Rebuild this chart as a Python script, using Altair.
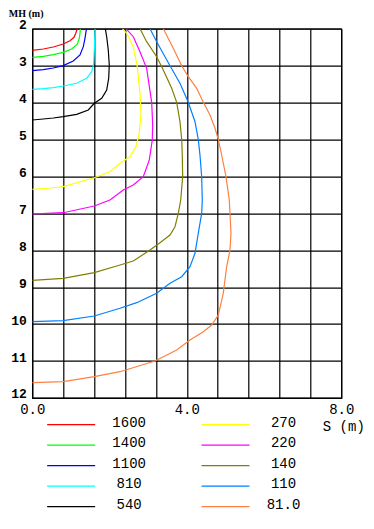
import altair as alt
import pandas as pd

# Contour levels and colours (legend order: column 1 then column 2)
levels = ["1600", "1400", "1100", "810", "540", "270", "220", "140", "110", "81.0"]
colors = ["#FF0000", "#00FF00", "#0000FF", "#00FFFF", "#000000",
          "#FFFF00", "#FF00FF", "#808000", "#0080FF", "#FF8040"]

# Contour polylines: S (m) and MH (m)
s_1600 = [0, 0.285, 0.544, 0.80, 0.976, 1.08, 1.124, 1.165]
mh_1600 = [2.585, 2.55, 2.496, 2.414, 2.325, 2.233, 2.125, 2.0]

s_1400 = [0, 0.285, 0.544, 0.80, 1.02, 1.165, 1.217, 1.235, 1.243]
mh_1400 = [2.775, 2.748, 2.704, 2.64, 2.55, 2.42, 2.26, 2.125, 2.0]

s_1100 = [0, 0.285, 0.544, 0.80, 1.06, 1.235, 1.32, 1.364, 1.39, 1.408]
mh_1100 = [3.137, 3.11, 3.064, 3.0, 2.875, 2.712, 2.487, 2.26, 2.08, 2.0]

s_810 = [0, 0.285, 0.544, 0.80, 1.149, 1.408, 1.538, 1.589, 1.605, 1.615, 1.623]
mh_810 = [3.641, 3.624, 3.598, 3.552, 3.478, 3.343, 3.164, 2.937, 2.577, 2.306, 2.0]

s_540 = [0, 0.285, 0.544, 0.80, 1.149, 1.45, 1.605, 1.797, 1.926, 1.978, 1.993, 1.967, 1.926, 1.89]
mh_540 = [4.472, 4.445, 4.418, 4.383, 4.318, 4.20, 4.02, 3.885, 3.66, 3.343, 2.983, 2.577, 2.217, 2.0]

s_270 = [0, 0.458, 0.80, 1.605, 2.01, 2.27, 2.529, 2.684, 2.77, 2.814, 2.788, 2.718, 2.615, 2.444, 2.33]
mh_270 = [6.349, 6.313, 6.278, 6.035, 5.872, 5.645, 5.466, 5.195, 4.832, 4.291, 3.749, 3.029, 2.487, 2.125, 2.0]

s_220 = [0, 0.373, 0.80, 1.605, 2.01, 2.356, 2.615, 2.873, 3.029, 3.106, 3.117, 3.091, 2.961, 2.788, 2.615, 2.426]
mh_220 = [7.018, 6.999, 6.983, 6.80, 6.638, 6.368, 6.232, 6.008, 5.555, 5.014, 4.608, 3.993, 3.072, 2.623, 2.217, 2.0]

s_140 = [0, 0.80, 1.605, 2.27, 2.615, 3.047, 3.306, 3.565, 3.694, 3.78, 3.842, 3.893, 3.883,
         3.868, 3.823, 3.738, 3.609, 3.391, 3.22, 2.961, 2.788]
mh_140 = [8.813, 8.759, 8.607, 8.399, 8.29, 7.993, 7.795, 7.587, 7.362, 6.999, 6.638, 6.008, 5.42,
          4.995, 4.518, 3.993, 3.614, 3.118, 2.758, 2.352, 2.0]

s_110 = [0, 0.80, 1.605, 2.27, 2.703, 3.22, 3.565, 3.868, 4.082, 4.212, 4.297, 4.385, 4.401,
         4.385, 4.341, 4.297, 4.212, 4.038, 3.823, 3.565, 3.22, 3.047]
mh_110 = [9.934, 9.907, 9.78, 9.571, 9.419, 9.165, 8.894, 8.716, 8.445, 8.082, 7.54, 6.999, 6.638,
          6.008, 5.42, 4.995, 4.518, 3.993, 3.478, 3.002, 2.352, 2.0]

s_81 = [0, 0.80, 1.605, 2.27, 3.176, 3.738, 4.082, 4.427, 4.644, 4.815, 4.944, 5.032, 5.118,
        5.144, 5.10, 5.014, 4.903, 4.815, 4.73, 4.60, 4.427, 4.256, 4.038, 3.868, 3.65, 3.391]
mh_81 = [11.586, 11.559, 11.423, 11.288, 10.998, 10.70, 10.43, 10.205, 10.023, 9.753, 9.165, 8.445, 8.0,
         7.54, 6.638, 6.008, 5.42, 4.995, 4.697, 4.337, 3.993, 3.614, 3.30, 3.002, 2.531, 2.0]

x_ticks = [0, 0.8, 1.6, 2.4, 3.2, 4, 4.8, 5.6, 6.4, 7.2, 8]
y_ticks = [2, 3, 4, 5, 6, 7, 8, 9, 10, 11, 12]

series = {
    "1600": (s_1600, mh_1600), "1400": (s_1400, mh_1400), "1100": (s_1100, mh_1100),
    "810": (s_810, mh_810), "540": (s_540, mh_540), "270": (s_270, mh_270),
    "220": (s_220, mh_220), "140": (s_140, mh_140), "110": (s_110, mh_110),
    "81.0": (s_81, mh_81),
}

rows = []
for lev, (ss, mm) in series.items():
    for i, (a, b) in enumerate(zip(ss, mm)):
        rows.append({"level": lev, "S": a, "MH": b, "i": i})
df = pd.DataFrame(rows)

leg = pd.DataFrame({
    "level": levels,
    "col": [k // 5 for k in range(len(levels))],
    "row": [k % 5 for k in range(len(levels))],
})

color_scale = alt.Scale(domain=levels, range=colors)

lines = alt.Chart(df).mark_line(strokeWidth=1.2, clip=True).encode(
    x=alt.X("S:Q",
            scale=alt.Scale(domain=[0, 8], nice=False, zero=False),
            axis=alt.Axis(values=x_ticks, grid=True, ticks=False, domain=False,
                          labelExpr="(datum.value == 0 || datum.value == 4 || datum.value == 8) ? format(datum.value, '.1f') : ''",
                          labelFont="Liberation Mono", labelFontSize=14, labelColor="#000000",
                          labelBaseline="top", labelPadding=5, labelFlush=False,
                          labelOverlap=False, labelBound=False,
                          title="S (m)", titleFont="Liberation Mono", titleFontSize=14,
                          titleFontWeight="normal", titleColor="#000000",
                          titleX=332, titleY=33, titleAlign="right",
                          titleBaseline="alphabetic")),
    y=alt.Y("MH:Q",
            scale=alt.Scale(domain=[2, 12], reverse=True, nice=False, zero=False),
            axis=alt.Axis(values=y_ticks, grid=True, ticks=False, domain=False,
                          format="d",
                          labelFont="Liberation Mono", labelFontSize=13, labelFontWeight="bold",
                          labelColor="#000000", labelBaseline="alphabetic", labelAlign="right",
                          labelPadding=6, labelFlush=False, labelOverlap=False, labelBound=False,
                          title="MH (m)", titleFont="Liberation Serif", titleFontSize=10,
                          titleFontWeight="bold", titleColor="#000000", titleAngle=0,
                          titleX=-24, titleY=-12, titleAlign="left",
                          titleBaseline="alphabetic")),
    color=alt.Color("level:N", scale=color_scale, legend=None),
    order=alt.Order("i:Q"),
)

leg_x = alt.X("col:Q", scale=alt.Scale(domain=[0, 1], range=[38.85, 193.2]), axis=None)
leg_y = alt.Y("row:Q", scale=alt.Scale(domain=[0, 4], range=[396, 478]), axis=None)

leg_lines = alt.Chart(leg).mark_tick(orient="horizontal", size=48, thickness=1.3,
                                     opacity=1, clip=False).encode(
    x=leg_x, y=leg_y,
    color=alt.Color("level:N", scale=color_scale, legend=None),
)

leg_text = alt.Chart(leg).mark_text(font="Liberation Mono", fontSize=14, dx=58, dy=-2,
                                    align="center", baseline="middle", color="#000000",
                                    clip=False).encode(
    x=leg_x, y=leg_y, text="level:N",
)

chart = alt.layer(lines, leg_lines, leg_text).resolve_scale(
    x="independent", y="independent"
).properties(
    width=309, height=369.3,
    autosize=alt.AutoSizeParams(type="none"),
    padding={"left": 24.3, "top": 20.7, "right": 24, "bottom": 119},
).configure_view(
    stroke="#000000", strokeWidth=1.2
).configure_axis(
    gridColor="#000000", gridOpacity=1, gridWidth=1.2
)

chart.save("out.html", embed_options={"renderer": "svg", "actions": False})
